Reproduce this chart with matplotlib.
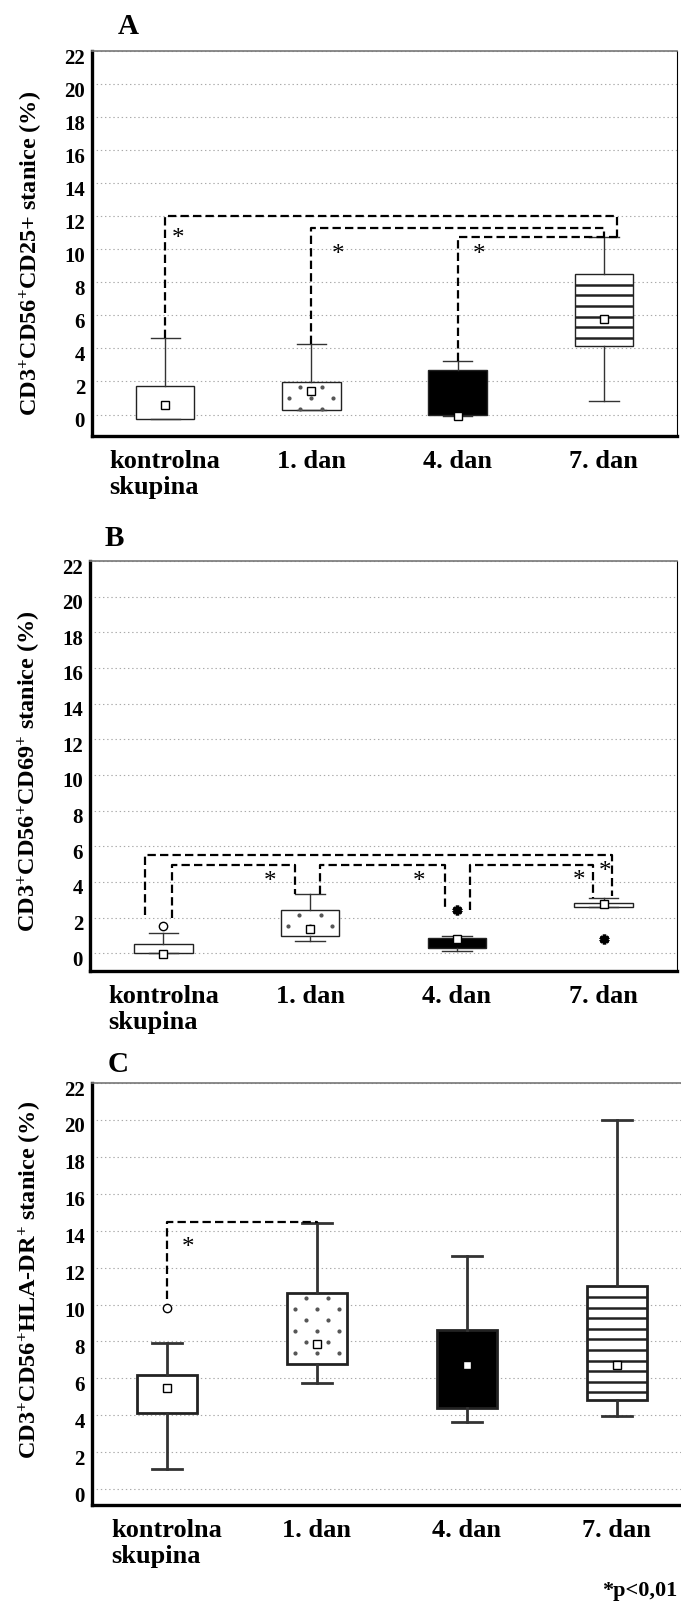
import matplotlib.pyplot as plt
import numpy as np
from matplotlib.transforms import ScaledTranslation

plt.rcParams['font.family'] = ['Liberation Serif', 'DejaVu Serif']
plt.rcParams['font.weight'] = 'bold'
plt.rcParams['axes.labelweight'] = 'bold'
plt.rcParams['mathtext.fontset'] = 'custom'
plt.rcParams['mathtext.rm'] = 'Liberation Serif:bold'
plt.rcParams['mathtext.it'] = 'Liberation Serif:bold'
plt.rcParams['mathtext.bf'] = 'Liberation Serif:bold'
plt.rcParams['lines.scale_dashes'] = False

W, H, DPI = 681, 1602, 100

groups = ['kontrolna\nskupina', '1. dan', '4. dan', '7. dan']
positions = [1, 2, 3, 4]

# Panel A: CD25
a_q1 = [-0.3, 0.3, 0.0, 4.13]
a_q3 = [1.71, 1.94, 2.72, 8.49]
a_lo = [-0.3, 0.3, -0.08, 0.8]
a_hi = [4.66, 4.25, 3.22, 10.75]
a_mean = [0.6, 1.41, -0.1, 5.8]
# brackets: x left, x right, level, y left end, y right end
a_brackets = [(1.0, 4.09, 12.0, 4.66, 10.75),
              (2.0, 4.0, 11.29, 4.25, 10.75),
              (3.0, 4.09, 10.75, 3.22, 10.75)]
a_stars = [(1.086, 11.0), (2.18, 10.0), (3.146, 10.0)]

# Panel B: CD69
b_q1 = [0.0, 0.97, 0.28, 2.58]
b_q3 = [0.5, 2.43, 0.84, 2.84]
b_lo = [0.0, 0.71, 0.15, 2.58]
b_hi = [1.12, 3.33, 0.97, 3.08]
b_mean = [-0.04, 1.36, 0.78, 2.76]
b_outlier_grp = [1]
b_outlier_val = [1.55]
b_extreme_grp = [3, 4]
b_extreme_val = [2.4, 0.78]
b_brackets = [(0.877, 4.06, 5.52, 2.15, 3.2),
              (1.06, 1.9, 4.95, 1.96, 3.33),
              (2.07, 2.916, 4.95, 3.33, 2.43),
              (3.09, 3.93, 4.95, 2.43, 3.08)]
b_stars = [(1.73, 4.33), (2.74, 4.33), (3.83, 4.4), (4.01, 4.9)]

# Panel C: HLA-DR
c_q1 = [4.12, 6.78, 4.42, 4.83]
c_q3 = [6.17, 10.6, 8.63, 10.98]
c_lo = [1.1, 5.75, 3.62, 3.96]
c_hi = [7.9, 14.42, 12.61, 20.0]
c_mean = [5.47, 7.88, 6.72, 6.72]
c_outlier_grp = [1]
c_outlier_val = [9.8]
c_brackets = [(1.0, 2.0, 14.45, 10.3, 14.42)]
c_stars = [(1.14, 13.4)]

fig = plt.figure(figsize=(W / DPI, H / DPI), dpi=DPI)


def px_offset(dy):
    return ScaledTranslation(0, dy / DPI, fig.dpi_scale_trans)


def panel(rect_px, ylim, q1, q3, lo, hi, mean, lw, ylabel, label_y):
    l, t, w, h = rect_px
    ax = fig.add_axes([l / W, 1 - (t + h) / H, w / W, h / H])
    stats = [dict(med=q1[i], q1=q1[i], q3=q3[i], whislo=lo[i], whishi=hi[i],
                  mean=mean[i], fliers=[]) for i in range(4)]
    bp = ax.bxp(stats, positions=positions, widths=0.4, capwidths=0.2,
                patch_artist=True, showmeans=True, showfliers=False,
                boxprops=dict(edgecolor='#222', linewidth=lw),
                whiskerprops=dict(color='#333', linewidth=lw),
                capprops=dict(color='#333', linewidth=lw),
                medianprops=dict(linewidth=0),
                meanprops=dict(marker='s', markerfacecolor='white',
                               markeredgecolor='black', markersize=5.5,
                               markeredgewidth=1, zorder=6))
    for patch, fc in zip(bp['boxes'], ['white', 'white', 'black', 'white']):
        patch.set_facecolor(fc)

    ax.set_xlim(0.5, 4.5)
    ax.set_ylim(*ylim)
    ppu_x = w / 4
    ppu_y = h / (ylim[1] - ylim[0])

    # dotted fill for 1. dan
    rows = np.arange(q3[1] - 5 / ppu_y, q1[1], -11 / ppu_y)
    for k, yy in enumerate(rows):
        offs = [-11, 11] if k % 2 == 0 else [-22, 0, 22]
        xs = [2 + o / ppu_x for o in offs]
        ax.plot(xs, [yy] * len(xs), ls='none', marker='o', ms=2,
                color='#555', zorder=3)

    # striped fill for 7. dan
    stripes = np.arange(q3[3] - 10.6 / ppu_y, q1[3], -10.6 / ppu_y)
    if len(stripes):
        ax.hlines(stripes, 3.8, 4.2, color='#222', lw=1.8, zorder=3)

    ax.set_yticks(range(0, 23, 2))
    ax.set_xticks(positions)
    ax.set_xticklabels(groups)
    ax.yaxis.grid(True, linestyle=(0, (1, 2)), color='#aaa', lw=0.8)
    ax.set_axisbelow(True)
    ax.tick_params(axis='y', length=0, pad=5, labelsize=15)
    ax.tick_params(axis='x', length=0, pad=10, labelsize=19)
    for lab in ax.get_yticklabels():
        lab.set_transform(lab.get_transform() + px_offset(-5))
    for lab in ax.get_xticklabels():
        lab.set_multialignment('left')
        lab.set_linespacing(1.15)

    ax.spines['left'].set_linewidth(2.4)
    ax.spines['bottom'].set_linewidth(2.4)
    ax.spines['top'].set_linewidth(1.2)
    ax.spines['top'].set_color('#777')
    ax.spines['right'].set_linewidth(0.8)

    ax.set_ylabel(ylabel, fontsize=17.5, fontweight='bold')
    ax.yaxis.set_label_coords(-0.08, label_y)
    return ax


def brackets(ax, items, stars):
    for x0, x1, lev, y0, y1 in items:
        ax.plot([x0, x0, x1, x1], [y0, lev, lev, y1], color='black',
                lw=1.6, dashes=(6, 3), zorder=5)
    for x, y in stars:
        ax.text(x, y, '*', fontsize=18, fontweight='normal', ha='center',
                va='baseline', transform=ax.transData + px_offset(-12))


# A
axA = panel((92, 51, 585, 385), (-1.3, 22), a_q1, a_q3, a_lo, a_hi, a_mean,
            1.0, r'CD3$^{+}$CD56$^{+}$CD25+ stanice (%)', 0.473)
brackets(axA, a_brackets, a_stars)
fig.text(128 / W, 1 - 26 / H, 'A', fontsize=21, ha='center', va='center')

# B
axB = panel((90, 561, 587, 410), (-1.0, 22), b_q1, b_q3, b_lo, b_hi, b_mean,
            1.0, r'CD3$^{+}$CD56$^{+}$CD69$^{+}$ stanice (%)', 0.488)
axB.plot(b_outlier_grp, b_outlier_val, ls='none', marker='o', ms=6,
         mfc='white', mec='black', mew=1, zorder=6)
axB.plot(b_extreme_grp, b_extreme_val, ls='none', marker=(6, 2, 0), ms=7,
         color='black', mew=2.5, zorder=6)
brackets(axB, b_brackets, b_stars)
fig.text(114 / W, 1 - 538 / H, 'B', fontsize=21, ha='center', va='center')

# C
axC = panel((91.7, 1083, 600, 422), (-0.86, 22), c_q1, c_q3, c_lo, c_hi, c_mean,
            2.0, r'CD3$^{+}$CD56$^{+}$HLA-DR$^{+}$ stanice (%)', 0.533)
axC.plot(c_outlier_grp, c_outlier_val, ls='none', marker='o', ms=6,
         mfc='white', mec='black', mew=1, zorder=6)
brackets(axC, c_brackets, c_stars)
fig.text(118 / W, 1 - 1065 / H, 'C', fontsize=21, ha='center', va='center')

fig.text(602 / W, 1 - 1591 / H, '*p<0,01', fontsize=16, ha='left', va='center')

fig.savefig('out.png', dpi=DPI)
